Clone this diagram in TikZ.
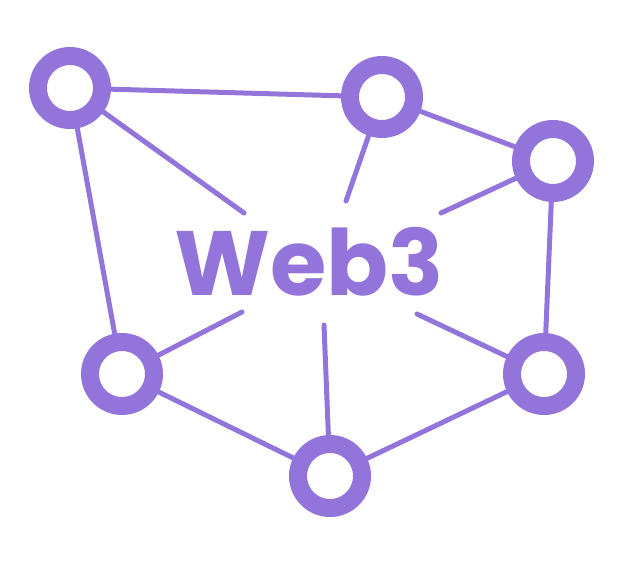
\documentclass[tikz,border=0pt]{standalone}
\usepackage{fontspec}
\setmainfont{Poppins}
\definecolor{webviolet}{RGB}{147,116,219}
\tikzset{
	ring/.style={circle,draw=webviolet,line width=0.36cm,minimum size=1.28cm,inner sep=0pt},
	link/.style={webviolet,line width=0.1cm,line cap=round}
}
\begin{document}
\begin{tikzpicture}[x=0.02cm,y=-0.02cm]
		\useasboundingbox (0,0) rectangle (624,567);
		\node[ring] (n1) at (70,88) {};
		\node[ring] (n2) at (382,97) {};
		\node[ring] (n3) at (553,161) {};
		\node[ring] (n4) at (122,374) {};
		\node[ring] (n5) at (544,374) {};
		\node[ring] (n6) at (330,476) {};
		\node[text=webviolet,font=\fontsize{52}{60}\selectfont\bfseries] (web) at (309,262) {Web3};
		\coordinate (s1) at (244,213);
		\coordinate (s2) at (346,201);
		\coordinate (s3) at (441,213);
		\coordinate (s4) at (242,312);
		\coordinate (s5) at (417,314);
		\coordinate (s6) at (324,325);
		\draw[link] (n1) -- (n2);
		\draw[link] (n2) -- (n3);
		\draw[link] (n3) -- (n5);
		\draw[link] (n1) -- (n4);
		\draw[link] (n4) -- (n6);
		\draw[link] (n6) -- (n5);
		\draw[link] (n1) -- (s1);
		\draw[link] (n2) -- (s2);
		\draw[link] (n3) -- (s3);
		\draw[link] (n4) -- (s4);
		\draw[link] (n5) -- (s5);
		\draw[link] (n6) -- (s6);
\end{tikzpicture}
\end{document}
